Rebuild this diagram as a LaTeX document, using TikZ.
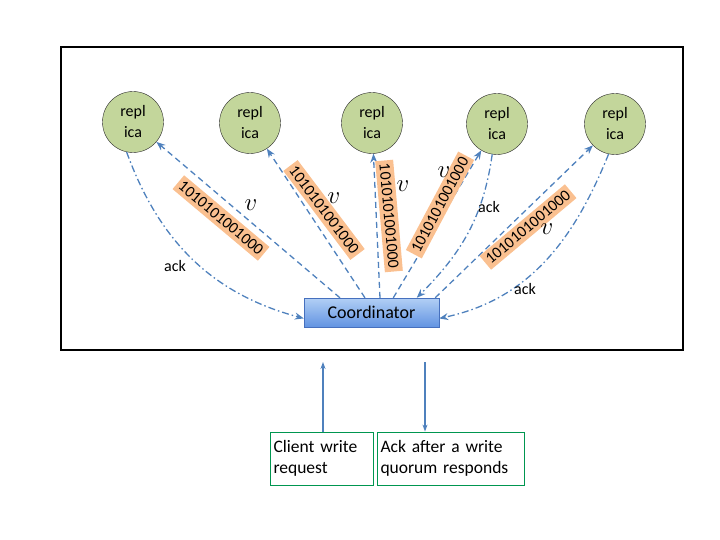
\documentclass[tikz,border=0pt]{standalone}
\usepackage{fontspec}
\setmainfont{Carlito}
\usetikzlibrary{arrows.meta}
\definecolor{replgreen}{RGB}{195,214,155}
\definecolor{msgblue}{RGB}{79,129,189}
\definecolor{bitorange}{RGB}{250,192,144}
\definecolor{boxgreen}{RGB}{0,150,80}
\definecolor{coordtop}{RGB}{178,207,245}
\definecolor{coordbottom}{RGB}{98,148,226}
\definecolor{coordedge}{RGB}{70,112,190}
\tikzset{
  replica/.style={circle, draw=black!85, fill=replgreen, minimum size=61pt, inner sep=0pt,
    align=center, font=\fontsize{16}{21}\selectfont},
  bits/.style={fill=bitorange, inner xsep=3pt, inner ysep=3pt, text height=11pt, text depth=1pt,
    font=\fontsize{16}{16}\selectfont},
  vlabel/.style={font=\Huge},
  acklabel/.style={font=\fontsize{16}{16}\selectfont},
  vmsg/.style={msgblue, line width=1.3pt, dash pattern=on 6pt off 4pt, -{Stealth[length=9pt,width=7pt,inset=3pt]}},
  ackmsg/.style={msgblue, line width=1.3pt, dash pattern=on 7pt off 3pt on 1.5pt off 3pt, -{Stealth[length=9pt,width=7pt,inset=3pt]}},
  wire/.style={msgblue, line width=1.5pt, -{Stealth[length=7pt,width=5pt]}},
  textbox/.style={draw=boxgreen, line width=0.8pt, align=left, inner xsep=3pt,
    font=\fontsize{17.5}{21}\selectfont, minimum height=53pt}
}
\begin{document}
\begin{tikzpicture}[x=1pt,y=1pt,yscale=-1]
\useasboundingbox (0,0) rectangle (720,540);

%Shape: Rectangle
\draw [line width=2.5pt] (61,47) rectangle (683,350);

% replicas
\node [replica] (r1) at (133,122) {repl\\ica};
\node [replica] (r2) at (250,123) {repl\\ica};
\node [replica] (r3) at (372,123) {repl\\ica};
\node [replica] (r4) at (497,124) {repl\\ica};
\node [replica] (r5) at (615,124) {repl\\ica};

% coordinator
\node [draw=coordedge, top color=coordtop, bottom color=coordbottom,
  minimum width=135pt, minimum height=29pt, inner sep=0pt,
  font=\fontsize{18}{18}\selectfont] (coord) at (371.5,312.5) {Coordinator};

% write messages
\draw [vmsg] (coord.155) -- (r1);
\draw [vmsg] (coord.114) -- (r2);
\draw [vmsg] (coord.60) -- (r3);
\draw [vmsg] (coord.34) -- (r4);
\draw [vmsg] (coord.13) -- (r5);

% acks (y axis is flipped, so out/in angles are mirrored)
\draw [ackmsg] (r1.258) to[out=70,in=-165] (coord.185);
\draw [ackmsg] (r4.261) to[out=98,in=-45] (coord.18);
\draw [ackmsg] (r5.258) to[out=112,in=-12] (coord.-5);

% Text Node
\node [acklabel] (ack1) at (175,266) {ack};
\node [acklabel] (ack4) at (489,207) {ack};
\node [acklabel] (ack5) at (525,289) {ack};

% values
\node [bits, rotate=-40] (b1) at (221,218) {1010101001000};
\node [bits, rotate=-53] (b2) at (324,210) {1010101001000};
\node [bits, rotate=-85] (b3) at (389,216) {1010101001000};
\node [bits, rotate=62] (b4) at (440,205) {1010101001000};
\node [bits, rotate=40] (b5) at (528,227) {1010101001000};
\node [vlabel] (v1) at (251,205) {$v$};
\node [vlabel] (v2) at (334,198) {$v$};
\node [vlabel] (v3) at (403,186) {$v$};
\node [vlabel] (v4) at (444,172) {$v$};
\node [vlabel] (v5) at (547,229) {$v$};

% client side
\node [textbox, minimum width=103pt, text width=96pt] (client) at (321.5,458.5) {Client write\\request};
\node [textbox, minimum width=147pt, text width=140pt] (reply) at (450.5,458.5) {Ack after a write\\quorum responds};
\coordinate (reqtop) at (323,362);
\coordinate (replytop) at (425,362);
\draw [wire] (reqtop |- client.north) -- (reqtop);
\draw [wire] (replytop) -- (replytop |- reply.north);

\end{tikzpicture}
\end{document}
